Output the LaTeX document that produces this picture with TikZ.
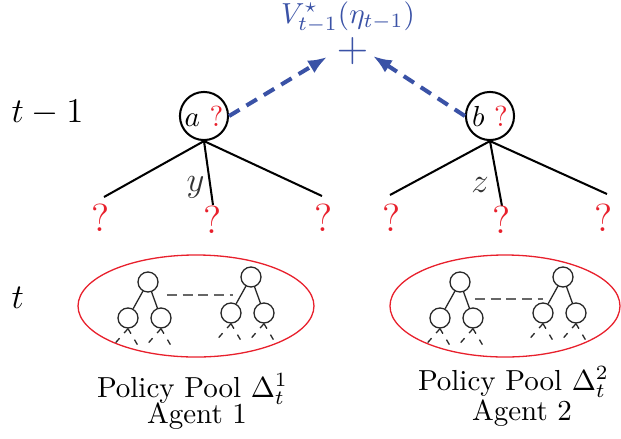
\documentclass[tikz,border=0pt]{standalone}
\usetikzlibrary{shapes.geometric,arrows.meta}
\definecolor{qred}{RGB}{232,32,44}
\definecolor{vblue}{RGB}{58,82,166}
\definecolor{pooltree}{RGB}{40,40,40}
\tikzset{
  decision/.style={circle,draw,line width=0.7pt,minimum size=16.6pt,inner sep=0pt},
  branch/.style={line width=0.7pt},
  qmark/.style={text=qred,inner sep=0pt,anchor=base,font=\fontsize{13.5}{16}\selectfont},
  edgelab/.style={text=black!80,inner sep=0pt,anchor=base,font=\large},
  valuearrow/.style={draw=vblue,line width=1.4pt,dash pattern=on 4.2pt off 2.8pt,
    -{Latex[length=6.5pt,width=5pt]}},
  poolring/.style={ellipse,draw=qred,line width=0.45pt,minimum height=35.2pt,inner sep=0pt},
  pnode/.style={circle,draw=pooltree,line width=0.45pt,minimum size=6.9pt,inner sep=0pt},
  pedge/.style={draw=pooltree,line width=0.45pt},
  pleaf/.style={draw=pooltree,line width=0.45pt,dash pattern=on 2pt off 2.4pt},
  plink/.style={draw=black!60,line width=0.45pt,dash pattern=on 3.4pt off 2pt},
  timelab/.style={inner sep=0pt,anchor=base west,font=\large},
  caption/.style={inner sep=0pt,anchor=base},
}
% one small policy tree: root #2,#3 and two children with dashed subtrees
\newcommand\policytree[3]{%
  \node[pnode] (#1r) at (#2,#3) {};
  \path (#1r) ++(-20,36) node[pnode] (#1a) {};
  \path (#1r) ++(13,36) node[pnode] (#1b) {};
  \draw[pedge] (#1r) -- (#1a);
  \draw[pedge] (#1r) -- (#1b);
  \foreach \c in {a,b}{%
    \path (#1\c.south) ++(-15,17) coordinate (#1\c l);
    \path (#1\c.south) ++(10,17) coordinate (#1\c r);
    \draw[pleaf] (#1\c.south) -- (#1\c l);
    \draw[pleaf] (#1\c.south) -- (#1\c r);
  }%
}
\begin{document}
\begin{tikzpicture}[x=0.345pt,y=-0.345pt]
\useasboundingbox (0,0) rectangle (621,438);

% time labels
\node[timelab] (tprev) at (11,122) {$t-1$};
\node[timelab] (tnow) at (11,308) {$t$};

% joint value at the top
\node[caption,text=vblue] (vlab) at (348,23) {$V^\star_{t-1}(\eta_{t-1})$};
\node[text=vblue,inner sep=0pt] (plus) at (352.5,51) {\Large$+$};

% decision nodes of both agents
\node[decision] (a) at (204,116) {$a$ \textcolor{qred}{?}};
\node[decision] (b) at (490,116) {$b$ \textcolor{qred}{?}};

\coordinate (tipa) at (327,57);
\coordinate (tipb) at (373,56);
\draw[valuearrow] (a.east) -- (tipa);
\draw[valuearrow] (b.west) -- (tipb);

% branches of agent 1
\coordinate (a1) at (104,197);
\coordinate (a2) at (213,205);
\coordinate (a3) at (322,196);
\draw[branch] (a.south) -- (a1);
\draw[branch] (a.south) -- (a2);
\draw[branch] (a.south) -- (a3);
\node[qmark] (qa1) at (101,231) {?};
\node[qmark] (qa2) at (212.5,233) {?};
\node[qmark] (qa3) at (323.5,231) {?};
\node[edgelab] (ylab) at (195.5,191) {$y$};

% branches of agent 2
\coordinate (b1) at (390,195);
\coordinate (b2) at (502,206);
\coordinate (b3) at (607,194);
\draw[branch] (b.south) -- (b1);
\draw[branch] (b.south) -- (b2);
\draw[branch] (b.south) -- (b3);
\node[qmark] (qb1) at (392,231) {?};
\node[qmark] (qb2) at (501.5,233) {?};
\node[qmark] (qb3) at (603.5,231) {?};
\node[edgelab] (zlab) at (480,192) {$z$};

% policy pools
\node[poolring,minimum width=81.4pt] (pool1) at (196,306) {};
\node[poolring,minimum width=79.35pt] (pool2) at (505,306) {};

\policytree{la}{148}{282}
\policytree{lb}{251}{277}
\policytree{ra}{460}{282}
\policytree{rb}{563}{277}

\coordinate (lk1) at (167,295);
\coordinate (lk2) at (233,295);
\draw[plink] (lk1) -- (lk2);
\coordinate (rk1) at (475,299);
\coordinate (rk2) at (543,299);
\draw[plink] (rk1) -- (rk2);

% captions
\node[caption] (cap1) at (192.5,397) {Policy Pool $\Delta_t^1$};
\node[caption] (ag1) at (197,423) {Agent 1};
\node[caption] (cap2) at (513.5,390) {Policy Pool $\Delta_t^2$};
\node[caption] (ag2) at (522,420) {Agent 2};
\end{tikzpicture}
\end{document}
